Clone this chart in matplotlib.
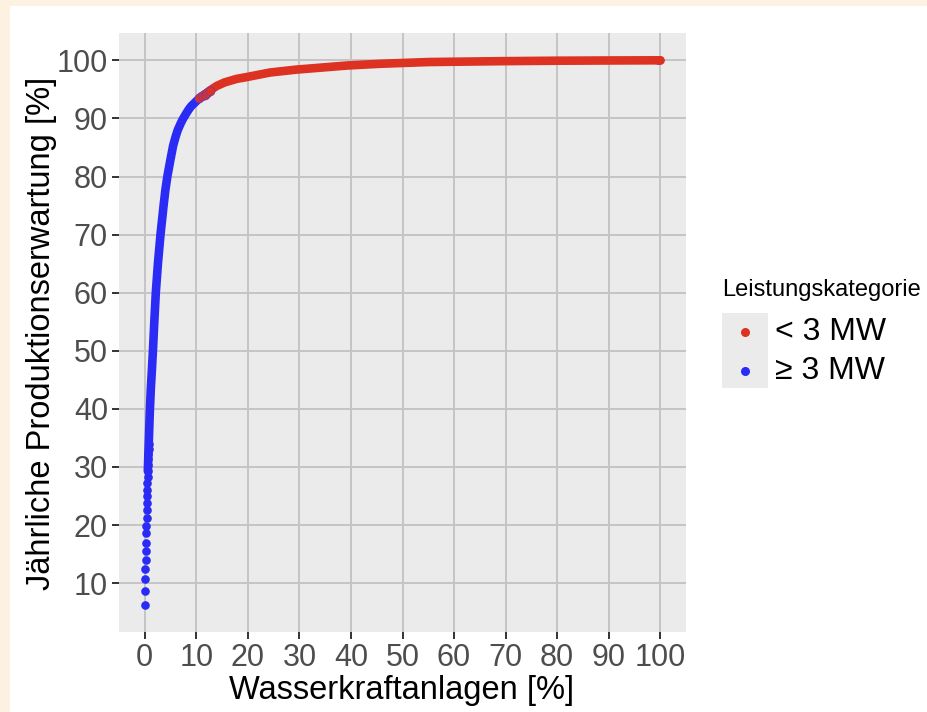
import matplotlib.pyplot as plt
from matplotlib.patches import Rectangle
from matplotlib.lines import Line2D

plt.rcParams["font.family"] = ["Liberation Sans", "DejaVu Sans"]

# Anteil Anlagen [%] -> kumulierte Produktionserwartung [%]
# Kategorie >= 3 MW (einzelne grosse Anlagen unten, danach dichte Kurve)
blau_x = [0.03, 0.07, 0.10, 0.14, 0.17, 0.21, 0.24, 0.28, 0.31, 0.35,
          0.38, 0.42, 0.45, 0.49, 0.52, 0.56, 0.59, 0.63, 0.66, 0.70,
          0.73, 0.77, 0.82, 0.90, 1.00, 1.17, 1.40, 1.60, 1.85, 2.14,
          2.55, 3.05, 3.65, 4.00, 4.40, 5.00, 5.50, 6.00, 6.40, 7.00,
          7.40, 8.00, 8.50, 9.00, 9.70, 10.4, 10.9, 11.4, 11.9, 12.4]
blau_y = [6.3, 8.7, 10.7, 12.4, 14.0, 15.6, 17.0, 18.6, 19.9, 21.3,
          22.6, 23.8, 25.0, 26.1, 27.2, 28.3, 29.3, 30.3, 31.3, 32.2,
          33.1, 34.0, 35.3, 37.5, 40.0, 43.4, 47.0, 50.3, 55.0, 60.0,
          65.0, 70.0, 75.0, 77.7, 80.1, 83.0, 85.3, 86.9, 88.0, 89.2,
          89.9, 90.8, 91.5, 92.1, 92.7, 93.3, 93.7, 94.0, 94.3, 94.6]
blau_end_x = [99.6]
blau_end_y = [100.0]

# Kategorie < 3 MW
rot_x = [10.6, 11.1, 11.6, 12.1, 12.6, 14.0, 15.5, 17.8, 19.7, 24.3,
         29.4, 35.0, 39.2, 45.6, 55.0, 69.0, 80.0, 90.0, 100.0]
rot_y = [93.5, 93.8, 94.1, 94.4, 94.8, 95.6, 96.2, 96.8, 97.1, 97.9,
         98.4, 98.8, 99.1, 99.4, 99.7, 99.85, 99.93, 99.97, 100.0]

x_ticks = [0, 10, 20, 30, 40, 50, 60, 70, 80, 90, 100]
y_ticks = [10, 20, 30, 40, 50, 60, 70, 80, 90, 100]

farbe_rot = "#DD3122"
farbe_blau = "#2B2BF6"

fig = plt.figure(figsize=(9.28, 7.12), dpi=100, facecolor="#FDF1E1")
fig.patches.append(Rectangle((10 / 928, 0), 1, 706 / 712, transform=fig.transFigure,
                             facecolor="white", edgecolor="none", zorder=-5))

ax = fig.add_axes([119 / 928, 80 / 712, 567 / 928, 599 / 712])
ax.set_facecolor("#EBEBEB")

# dichte Kurve als dicke Linie, einzelne Punkte unten als Marker
n_dicht = 16
ax.plot(blau_x[n_dicht:], blau_y[n_dicht:], color=farbe_blau, lw=6.2,
        solid_capstyle="round", solid_joinstyle="round", zorder=3)
ax.plot(blau_x[:n_dicht + 6], blau_y[:n_dicht + 6], "o", color=farbe_blau,
        ms=6.2, mew=0, zorder=3)
ax.plot(blau_end_x, blau_end_y, "o", color=farbe_blau, ms=6.2, mew=0, zorder=3)
ax.plot(rot_x, rot_y, color=farbe_rot, lw=6.2, solid_capstyle="round",
        solid_joinstyle="round", zorder=4)
ax.plot(rot_x[:5], rot_y[:5], "o", color=farbe_rot, ms=6.2, mew=0.6, mec="#7A3AA8", zorder=4)
ax.plot(rot_x[-1:], rot_y[-1:], "o", color=farbe_rot, ms=6.2, mew=0, zorder=5)

ax.set_xlim(-5, 105)
ax.set_ylim(1.6, 104.7)
ax.set_xticks(x_ticks)
ax.set_yticks(y_ticks)
ax.grid(True, color="#C4C4C4", lw=1.4)
ax.set_axisbelow(True)
for s in ax.spines.values():
    s.set_visible(False)
ax.tick_params(colors="#333333", labelcolor="#4D4D4D", labelsize=22,
               length=5, width=1.4, pad=3)

fig.text(402 / 928, 22 / 712, "Wasserkraftanlagen [%]", fontsize=23.5,
         ha="center", va="center")
fig.text(42 / 928, (712 - 333) / 712, "Jährliche Produktionserwartung [%]", fontsize=23.5,
         ha="center", va="center", rotation=90)

# Legende
fig.text(722 / 928, (712 - 290) / 712, "Leistungskategorie", fontsize=17,
         ha="left", va="center")
fig.patches.append(Rectangle((722 / 928, (712 - 388) / 712), 46 / 928, 75 / 712,
                             transform=fig.transFigure, facecolor="#EBEBEB",
                             edgecolor="none", zorder=1))
for farbe, text, ypix in [(farbe_rot, "< 3 MW", 332), (farbe_blau, "≥ 3 MW", 371)]:
    fig.lines.append(Line2D([745 / 928], [(712 - ypix) / 712], marker="o", ms=6.5,
                            color=farbe, mew=0, transform=fig.transFigure, zorder=2))
    fig.text(775 / 928, (712 - ypix) / 712, text, fontsize=23, ha="left", va="center")

plt.savefig("out.png", dpi=100, facecolor=fig.get_facecolor())
